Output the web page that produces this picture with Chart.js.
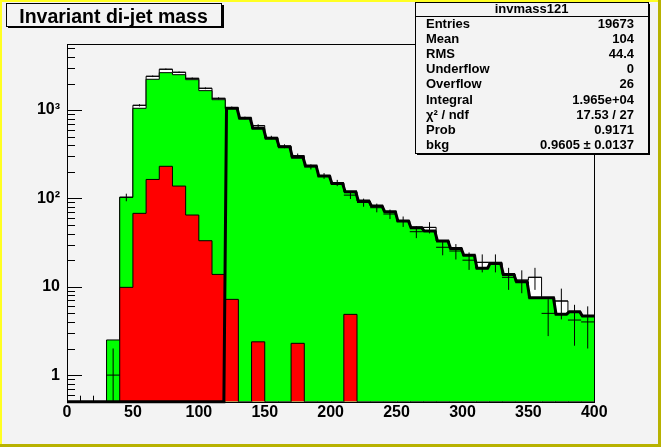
<!DOCTYPE html>
<html>
<head>
<meta charset="utf-8">
<title>Invariant di-jet mass</title>
<script src="https://cdn.jsdelivr.net/npm/chart.js@4.4.1/dist/chart.umd.min.js"></script>
<style>
  html, body { margin: 0; padding: 0; background: #f3f3f3; }
  #wrap { width: 661px; height: 447px; }
</style>
</head>
<body>
<div id="wrap"><canvas id="massChart" width="661" height="447"></canvas></div>
<script>
// histogram bins (lower edges), 10 GeV wide
const binLow = [0, 10, 20, 30, 40, 50, 60, 70, 80, 90,
                100, 110, 120, 130, 140, 150, 160, 170, 180, 190,
                200, 210, 220, 230, 240, 250, 260, 270, 280, 290,
                300, 310, 320, 330, 340, 350, 360, 370, 380, 390];

// measured data (white histogram + error crosses)
const dataCounts = [0, 0, 0, 1, 103, 1133, 2414, 2900, 2680, 2290,
                    1766, 1360, 1065, 815, 666, 490, 390, 305, 228, 180,
                    150, 109, 90, 78.5, 66.6, 55, 42, 47, 28, 25.4,
                    20, 18.9, 18.9, 12.8, 11.9, 12.8, 5, 6.9, 4.2, 4];

// total (green)
const totalCounts = [0, 0, 0, 2.5, 103, 1048, 2233, 2653, 2516, 2210,
                     1660, 1312, 1040, 808, 622, 480, 385, 292, 233, 180,
                     148, 119, 93.5, 82, 70.8, 56, 47.5, 43, 33, 27,
                     22.7, 16.2, 18.4, 13.8, 11.4, 7.5, 7.5, 4.9, 5.2, 4.66];

// signal (red)
const signalCounts = [0, 0, 0, 0, 9.85, 67.8, 164, 231, 138, 64.9,
                      33.2, 13.8, 7.2, 0, 2.38, 0, 0, 2.29, 0, 0,
                      0, 4.87, 0, 0, 0, 0, 0, 0, 0, 0,
                      0, 0, 0, 0, 0, 0, 0, 0, 0, 0];

// background fit (thick black line)
const bkgFit = [0, 0, 0, 0, 0, 0, 0, 0, 0, 0,
                0, 0, 1048, 808, 622, 480, 385, 292, 233, 180,
                148, 119, 93.5, 82, 70.8, 55.5, 46.6, 42.8, 33, 27.2,
                22.7, 16.2, 18.4, 13.8, 11.4, 7.5, 7.5, 4.9, 5.2, 4.66];

const xTickValues = [0, 50, 100, 150, 200, 250, 300, 350, 400];
const yTickValues = [1, 10, 100, 1000];
const yTickLabels = ['1', '10', '10²', '10³'];

const statTitle = 'invmass121';
const statLabels = ['Entries', 'Mean', 'RMS', 'Underflow', 'Overflow', 'Integral', 'χ² / ndf', 'Prob', 'bkg'];
const statValues = ['19673', '104', '44.4', '0', '26', '1.965e+04', '17.53 / 27', '0.9171', '0.9605 ± 0.0137'];

const chartTitle = 'Invariant di-jet mass';

const BIN_W = 10;
const X_MIN = 0, X_MAX = 400;
const Y_MIN = 0.5, Y_MAX = 5600;
const BG = '#f3f3f3';
const FONT = "'Liberation Sans', Arial, Helvetica, sans-serif";

// log axis cannot show zero: clip empty bins to the axis floor
const floorY = v => Math.max(v, Y_MIN);

function histPoints(values) {
    const pts = binLow.map((lo, i) => ({ x: lo, y: floorY(values[i]) }));
    pts.push({ x: X_MAX, y: floorY(values[values.length - 1]) });
    return pts;
}

function fitPoints(values) {
    const slant = 1;
    const pts = [];
    binLow.forEach((lo, i) => {
        pts.push({ x: i === 0 ? lo : lo + slant, y: floorY(values[i]) });
        pts.push({ x: i === binLow.length - 1 ? lo + BIN_W : lo + BIN_W - slant, y: floorY(values[i]) });
    });
    return pts;
}

function errorPoints(values) {
    const pts = [];
    binLow.forEach((lo, i) => {
        const n = values[i];
        if (!n) return;
        const c = lo + BIN_W / 2;
        const e = Math.sqrt(n);
        pts.push({ x: c, y: floorY(n - e) }, { x: c, y: n + e }, { x: c, y: null });
        pts.push({ x: lo, y: n }, { x: lo + BIN_W, y: n }, { x: lo + BIN_W, y: null });
    });
    return pts;
}

const crisp = p => Math.round(p) + 0.5;

// background, inward ticks, frame, title and stats boxes
const rootStyle = {
    id: 'rootStyle',
    beforeDraw(chart) {
        const ctx = chart.ctx;
        ctx.save();
        ctx.fillStyle = BG;
        ctx.fillRect(0, 0, chart.width, chart.height);
        ctx.restore();
    },
    beforeDatasetsDraw(chart) {
        const { ctx, chartArea: a, scales } = chart;
        ctx.save();
        ctx.strokeStyle = '#000';
        ctx.lineWidth = 1;
        ctx.beginPath();
        // y: decades and minor ticks
        for (let d = 0.1; d <= Y_MAX; d *= 10) {
            for (let k = 1; k <= 9; k++) {
                const v = k * d;
                if (v < Y_MIN || v > Y_MAX) continue;
                const py = crisp(scales.y.getPixelForValue(v));
                const len = k === 1 ? 15 : 8;
                ctx.moveTo(a.left, py);
                ctx.lineTo(a.left + len, py);
            }
        }
        // x: every 10, long at labels
        for (let v = X_MIN; v <= X_MAX; v += BIN_W) {
            const px = crisp(scales.x.getPixelForValue(v));
            const len = xTickValues.includes(v) ? 12 : 6;
            ctx.moveTo(px, a.bottom);
            ctx.lineTo(px, a.bottom - len);
        }
        ctx.stroke();
        ctx.restore();
    },
    afterDatasetsDraw(chart) {
        const { ctx, chartArea: a } = chart;
        ctx.save();
        ctx.strokeStyle = '#000';
        ctx.lineWidth = 1;
        ctx.strokeRect(crisp(a.left), crisp(a.top), Math.round(a.right - a.left), Math.round(a.bottom - a.top));
        ctx.restore();
    },
    afterDraw(chart) {
        const ctx = chart.ctx;
        ctx.save();

        // title box
        ctx.fillStyle = '#000';
        ctx.fillRect(8, 26, 216, 2);
        ctx.fillRect(222, 5, 2, 23);
        ctx.fillStyle = BG;
        ctx.fillRect(6, 3, 215, 23);
        ctx.strokeStyle = '#000';
        ctx.lineWidth = 1;
        ctx.strokeRect(6.5, 3.5, 215, 23);
        ctx.fillStyle = '#000';
        ctx.font = 'bold 19.5px ' + FONT;
        ctx.textAlign = 'center';
        ctx.textBaseline = 'alphabetic';
        ctx.fillText(chartTitle, 113.5, 23);

        // stats box
        const bx = 415, by = 2, bw = 233, bh = 151;
        ctx.fillStyle = '#000';
        ctx.fillRect(bx + 2, by + bh, bw, 2);
        ctx.fillRect(bx + bw, by + 2, 2, bh);
        ctx.fillStyle = BG;
        ctx.fillRect(bx, by, bw, bh);
        ctx.strokeRect(bx + 0.5, by + 0.5, bw, bh);
        ctx.beginPath();
        ctx.moveTo(bx, 16.5);
        ctx.lineTo(bx + bw, 16.5);
        ctx.stroke();
        ctx.fillStyle = '#000';
        ctx.font = 'bold 13px ' + FONT;
        ctx.textAlign = 'center';
        ctx.fillText(statTitle, bx + bw / 2, 13);
        statLabels.forEach((label, i) => {
            const base = 28 + i * 15.1;
            ctx.textAlign = 'left';
            ctx.fillText(label, 426, base);
            ctx.textAlign = 'right';
            ctx.fillText(statValues[i], 634, base);
        });

        // canvas bevel
        const w = chart.width, h = chart.height, b = 2;
        ctx.fillStyle = '#ffff22';
        ctx.fillRect(0, 0, w, b);
        ctx.fillRect(0, 0, b, h);
        ctx.fillStyle = '#b8b200';
        ctx.fillRect(w - 3, 0, 3, h);
        ctx.fillRect(0, h - 3, w, 3);
        ctx.restore();
    }
};

const lineBase = {
    pointRadius: 0,
    pointHoverRadius: 0,
    tension: 0
};

new Chart(document.getElementById('massChart'), {
    type: 'line',
    data: {
        datasets: [
            {
                ...lineBase,
                label: 'data',
                data: histPoints(dataCounts),
                stepped: 'before',
                borderColor: '#000',
                borderWidth: 1,
                backgroundColor: '#ffffff',
                fill: 'start',
                order: 5
            },
            {
                ...lineBase,
                label: 'total',
                data: histPoints(totalCounts),
                stepped: 'before',
                borderColor: '#000',
                borderWidth: 1,
                backgroundColor: '#00ff00',
                fill: 'start',
                order: 4
            },
            {
                ...lineBase,
                label: 'signal',
                data: histPoints(signalCounts),
                stepped: 'before',
                borderColor: '#000',
                borderWidth: 1,
                backgroundColor: '#ff0000',
                fill: 'start',
                order: 3
            },
            {
                ...lineBase,
                label: 'bkg fit',
                data: fitPoints(bkgFit),
                borderColor: '#000',
                borderWidth: 3,
                fill: false,
                clip: 3,
                order: 2
            },
            {
                ...lineBase,
                label: 'errors',
                data: errorPoints(dataCounts),
                borderColor: '#000',
                borderWidth: 1,
                spanGaps: false,
                fill: false,
                order: 1
            }
        ]
    },
    options: {
        responsive: false,
        animation: false,
        devicePixelRatio: 1,
        events: [],
        layout: { padding: { top: 44, right: 66.7, bottom: 0, left: 0 } },
        plugins: {
            legend: { display: false },
            tooltip: { enabled: false },
            title: { display: false }
        },
        scales: {
            x: {
                type: 'linear',
                min: X_MIN,
                max: X_MAX,
                afterBuildTicks: scale => { scale.ticks = xTickValues.map(v => ({ value: v })); },
                afterFit: scale => { scale.height = 45.3; },
                grid: { display: false, drawTicks: false },
                border: { display: false },
                ticks: {
                    autoSkip: false,
                    maxRotation: 0,
                    padding: 1,
                    color: '#000',
                    font: { family: FONT, size: 16, weight: 'bold' },
                    callback: v => String(v)
                }
            },
            y: {
                type: 'logarithmic',
                min: Y_MIN,
                max: Y_MAX,
                afterBuildTicks: scale => { scale.ticks = yTickValues.map(v => ({ value: v })); },
                afterFit: scale => { scale.width = 67; },
                grid: { display: false, drawTicks: false },
                border: { display: false },
                ticks: {
                    autoSkip: false,
                    padding: 7,
                    color: '#000',
                    font: { family: FONT, size: 16, weight: 'bold' },
                    callback: (v, i) => yTickLabels[i]
                }
            }
        }
    },
    plugins: [rootStyle]
});
</script>
</body>
</html>
